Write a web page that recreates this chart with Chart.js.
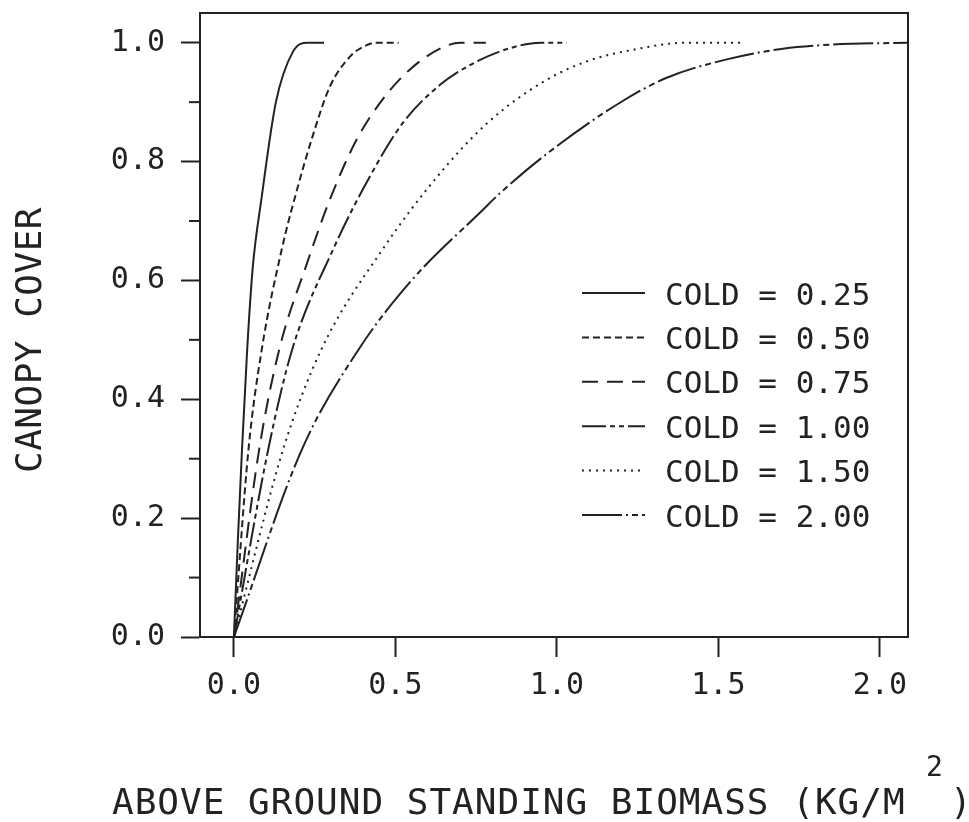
<!DOCTYPE html>
<html>
<head>
<meta charset="utf-8">
<script src="https://cdn.jsdelivr.net/npm/chart.js@4.4.1/dist/chart.umd.min.js"></script>
<style>
  body { margin: 0; background: #fff; }
  #wrap { width: 969px; height: 822px; position: relative; }
</style>
</head>
<body>
<div id="wrap"><canvas id="graph"></canvas></div>
<script>
// values: biomass (kg/m2) and canopy cover for each COLD value
const coldLabels = ['COLD = 0.25', 'COLD = 0.50', 'COLD = 0.75', 'COLD = 1.00', 'COLD = 1.50', 'COLD = 2.00'];

const biomass025 = [0, 0.012, 0.025, 0.041, 0.058, 0.086, 0.13, 0.183, 0.229, 0.279];
const cover025   = [0, 0.16, 0.315, 0.483, 0.62, 0.74, 0.90, 0.985, 1.0, 1.0];

const biomass050 = [0, 0.045, 0.086, 0.148, 0.194, 0.245, 0.297, 0.36, 0.40, 0.44, 0.51];
const cover050   = [0, 0.315, 0.483, 0.652, 0.75, 0.845, 0.926, 0.977, 0.993, 1.0, 1.0];

const biomass075 = [0, 0.078, 0.14, 0.227, 0.297, 0.38, 0.461, 0.545, 0.638, 0.70, 0.78];
const cover075   = [0, 0.315, 0.483, 0.63, 0.736, 0.837, 0.905, 0.955, 0.99, 1.0, 1.0];

const biomass100 = [0, 0.106, 0.18, 0.307, 0.421, 0.523, 0.64, 0.74, 0.85, 0.95, 1.03];
const cover100   = [0, 0.315, 0.483, 0.652, 0.775, 0.865, 0.93, 0.965, 0.99, 1.0, 1.0];

const biomass150 = [0, 0.152, 0.27, 0.46, 0.63, 0.785, 0.96, 1.10, 1.235, 1.4, 1.58];
const cover150   = [0, 0.315, 0.483, 0.652, 0.775, 0.865, 0.935, 0.97, 0.988, 1.0, 1.0];

const biomass200 = [0, 0.21, 0.385, 0.55, 0.771, 0.824, 0.978, 1.195, 1.34, 1.526, 1.70, 1.855, 2.087];
const cover200   = [0, 0.315, 0.483, 0.60, 0.719, 0.747, 0.817, 0.899, 0.941, 0.972, 0.99, 0.997, 1.0];

const xTickStep = 0.5;
const yTickStep = 0.2;
const yMinorTicks = [0.1, 0.3, 0.5, 0.7, 0.9];

const INK = '#222';
const FONT = "'DejaVu Sans Mono', monospace";

function pairs(xs, ys) {
  return xs.map((x, i) => ({ x: x, y: ys[i] }));
}

const dashes = [[], [7, 4], [16, 9], [24, 4, 5, 4, 5, 4], [2, 5], [40, 4, 2, 4, 6, 4]];
const seriesX = [biomass025, biomass050, biomass075, biomass100, biomass150, biomass200];
const seriesY = [cover025, cover050, cover075, cover100, cover150, cover200];

const datasets = coldLabels.map((lab, i) => ({
  label: lab,
  data: pairs(seriesX[i], seriesY[i]),
  borderColor: INK,
  borderWidth: 2,
  borderDash: dashes[i],
  pointRadius: 0,
  fill: false,
  cubicInterpolationMode: 'monotone'
}));

// box, minor ticks, legend and axis titles
const decor = {
  id: 'decor',
  afterDraw(chart) {
    const ctx = chart.ctx;
    const a = chart.chartArea;
    const y = chart.scales.y;
    ctx.save();
    ctx.strokeStyle = INK;
    ctx.fillStyle = INK;
    ctx.lineWidth = 2;
    ctx.strokeRect(a.left, a.top, a.right - a.left, a.bottom - a.top);

    yMinorTicks.forEach(v => {
      const py = y.getPixelForValue(v);
      ctx.beginPath();
      ctx.moveTo(a.left - 11, py);
      ctx.lineTo(a.left, py);
      ctx.stroke();
    });

    // legend
    ctx.font = '31px ' + FONT;
    ctx.textBaseline = 'alphabetic';
    ctx.textAlign = 'left';
    chart.data.datasets.forEach((ds, i) => {
      const cy = 293 + i * 44.4;
      ctx.setLineDash(ds.borderDash);
      ctx.beginPath();
      ctx.moveTo(582, cy);
      ctx.lineTo(645, cy);
      ctx.stroke();
      ctx.setLineDash([]);
      ctx.fillText(ds.label, 665, cy + 11.5);
    });

    // x title with superscript
    ctx.font = '36px ' + FONT;
    ctx.letterSpacing = '1px';
    ctx.fillText('ABOVE GROUND STANDING BIOMASS (KG/M', 112, 814);
    ctx.fillText(')', 950, 814);
    ctx.font = '28px ' + FONT;
    ctx.fillText('2', 926, 776);

    // y title
    ctx.font = '36px ' + FONT;
    ctx.letterSpacing = '0.5px';
    ctx.translate(28, 340);
    ctx.rotate(-Math.PI / 2);
    ctx.textAlign = 'center';
    ctx.fillText('CANOPY COVER', 0, 13);
    ctx.restore();
  }
};

Chart.defaults.font.family = FONT;
Chart.defaults.color = INK;

const graph = new Chart(document.getElementById('graph'), {
  type: 'scatter',
  data: { datasets: datasets },
  options: {
    responsive: true,
    maintainAspectRatio: false,
    animation: false,
    showLine: true,
    layout: { padding: { top: 13, right: 61, left: 0, bottom: 0 } },
    plugins: {
      legend: { display: false },
      tooltip: { enabled: false }
    },
    scales: {
      x: {
        type: 'linear',
        min: -0.105,
        max: 2.087,
        afterFit: s => { s.height = 185; s.paddingLeft = 0; s.paddingRight = 0; },
        grid: { drawOnChartArea: false, drawTicks: true, tickLength: 20, tickWidth: 2, tickColor: INK },
        border: { display: true, color: INK, width: 2 },
        ticks: {
          stepSize: xTickStep,
          includeBounds: false,
          autoSkip: false,
          maxRotation: 0,
          padding: 11,
          color: INK,
          font: { size: 30 },
          callback: v => v.toFixed(1)
        }
      },
      y: {
        type: 'linear',
        min: 0,
        max: 1.05,
        afterFit: s => { s.width = 200; s.paddingTop = 0; s.paddingBottom = 0; },
        grid: { drawOnChartArea: false, drawTicks: true, tickLength: 19, tickWidth: 2, tickColor: INK },
        border: { display: true, color: INK, width: 2 },
        ticks: {
          stepSize: yTickStep,
          includeBounds: false,
          autoSkip: false,
          padding: 16,
          color: INK,
          font: { size: 30 },
          callback: v => v.toFixed(1)
        }
      }
    }
  },
  plugins: [decor]
});
</script>
</body>
</html>
